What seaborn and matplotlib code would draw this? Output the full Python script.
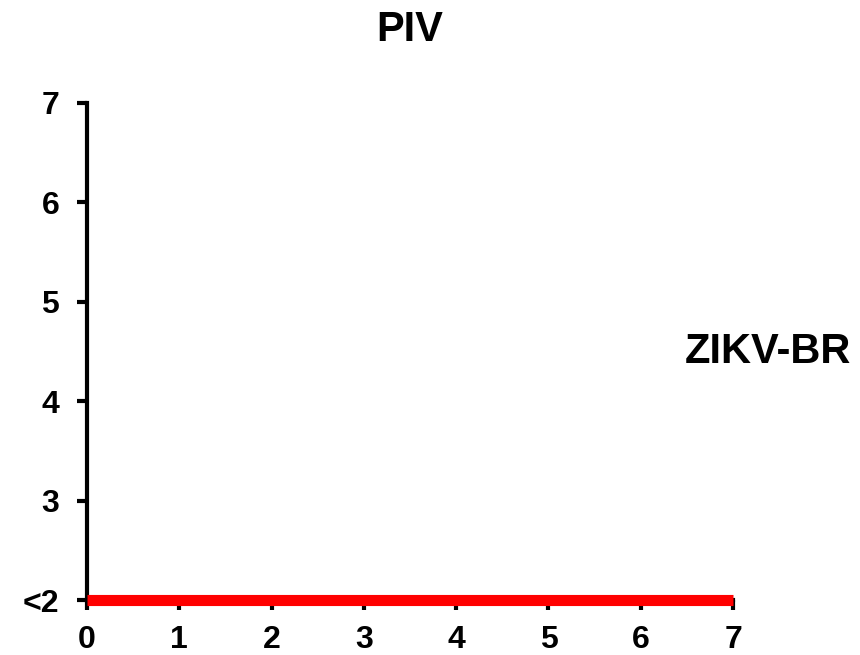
import matplotlib
matplotlib.use("Agg")
import matplotlib.pyplot as plt
import seaborn as sns
import pandas as pd

days = [0, 1, 2, 3, 4, 5, 6, 7]
titer = [2, 2, 2, 2, 2, 2, 2, 2]
y_ticks = [2, 3, 4, 5, 6, 7]
y_labels = ["<2", "3", "4", "5", "6", "7"]
title = "PIV"
series_label = "ZIKV-BR"

sns.set_style("white")
plt.rcParams['font.family'] = ['Liberation Sans', 'DejaVu Sans']
plt.rcParams['text.color'] = 'black'

df = pd.DataFrame({"day": days, "titer": titer})

fig = plt.figure(figsize=(8.6, 6.55), dpi=100)
ax = fig.add_axes([87/860, 55/655, (733-87)/860, (600-103)/655])

sns.lineplot(data=df, x="day", y="titer", ax=ax, color="#ff0000",
             linewidth=8, solid_capstyle="butt", zorder=5, clip_on=False)

ax.set_xlim(0, 7)
ax.set_ylim(2, 7)
ax.set_xticks(days)
ax.set_xticklabels([str(d) for d in days])
ax.set_yticks(y_ticks)
ax.set_yticklabels(y_labels)
ax.set_xlabel("")
ax.set_ylabel("")

for s in ["top", "right"]:
    ax.spines[s].set_visible(False)
for s in ["left", "bottom"]:
    ax.spines[s].set_linewidth(3)
    ax.spines[s].set_color("black")

ax.tick_params(axis="both", direction="out", length=7, width=3, colors="black",
               labelcolor="black", labelsize=23)
ax.tick_params(axis="x", bottom=True, pad=11)
ax.tick_params(axis="y", left=True, pad=13)
for lbl in ax.get_xticklabels() + ax.get_yticklabels():
    lbl.set_fontweight("bold")

fig.text(410/860, 1 - 30/655, title, ha="center", va="center",
         fontsize=30, fontweight="bold", color="black")
fig.text(685/860, 1 - 352/655, series_label, ha="left", va="center",
         fontsize=30, fontweight="bold", color="black")

fig.savefig("out.png", dpi=100)
